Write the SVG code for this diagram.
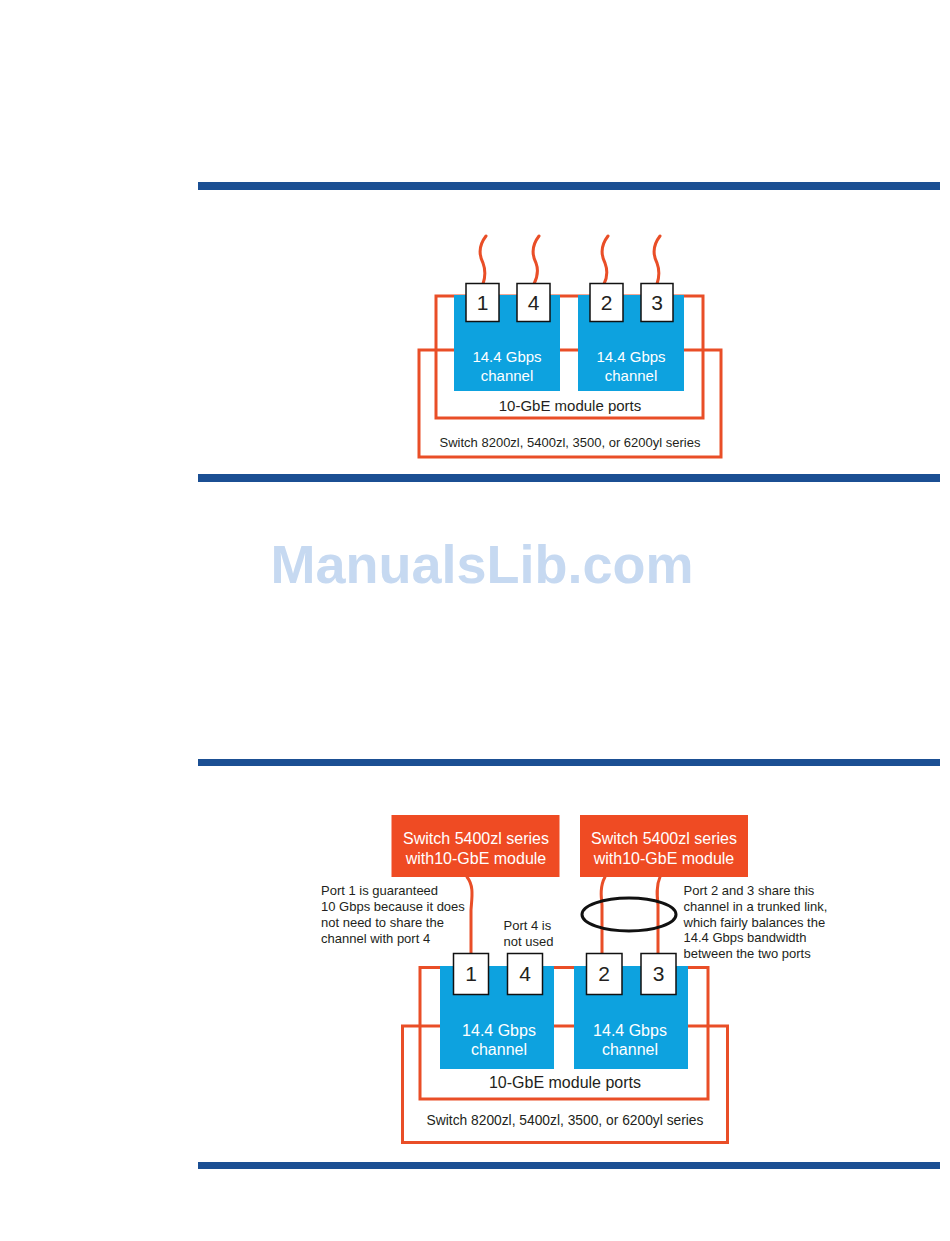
<svg xmlns="http://www.w3.org/2000/svg" width="950" height="1241" viewBox="0 0 950 1241">
<style>
.bar{fill:#1B4F93}
.frame{fill:none;stroke:#E94E27;stroke-width:3}
.chan{fill:#0DA2DF}
.port{fill:#fff;stroke:#111;stroke-width:1.5}
.cable{fill:none;stroke:#E94E27;stroke-width:3;stroke-linecap:round}
.hdr{fill:#EF4B23}
text{font-family:"Liberation Sans",Arial,sans-serif;fill:#231F20}
.w{fill:#fff}
.c{text-anchor:middle}
.num{font-size:21px}
</style>
<rect width="950" height="1241" fill="#fff"/>
<g id="bars">
<rect class="bar" x="198" y="182" width="742" height="8"/>
<rect class="bar" x="198" y="474" width="742" height="8"/>
<rect class="bar" x="198" y="759" width="742" height="7"/>
<rect class="bar" x="198" y="1162" width="742" height="7"/>
</g>
<text x="482" y="583" text-anchor="middle" font-family="Liberation Sans, Arial, sans-serif" font-weight="bold" font-size="54" style="fill:#C6D9F1">ManualsLib.com</text>

<!-- Top diagram -->
<g id="top-switch">
<rect class="frame" x="419" y="350" width="302" height="107"/>
<text class="c" x="570" y="447" font-size="13">Switch 8200zl, 5400zl, 3500, or 6200yl series</text>
</g>
<g id="top-module">
<rect class="frame" x="436" y="296" width="267" height="122"/>
<text class="c" x="570" y="411" font-size="15">10-GbE module ports</text>
</g>
<g id="top-channel-a">
<rect class="chan" x="454" y="295" width="106" height="96"/>
<text class="c w" x="507" y="362" font-size="15">14.4 Gbps</text>
<text class="c w" x="507" y="381" font-size="15">channel</text>
</g>
<g id="top-channel-b">
<rect class="chan" x="578" y="295" width="106" height="96"/>
<text class="c w" x="631" y="362" font-size="15">14.4 Gbps</text>
<text class="c w" x="631" y="381" font-size="15">channel</text>
</g>
<g id="top-connectors">
<path class="cable" d="M486,236 C479,245 479,255 483,263 C486,271 485,278 483,284"/>
<path class="cable" d="M539,236 C532,245 532,255 536,263 C539,271 537,278 534,284"/>
<path class="cable" d="M608,236 C601,245 601,255 605,263 C608,271 607,278 604,284"/>
<path class="cable" d="M660,236 C653,245 653,255 657,263 C660,271 659,278 657,284"/>
</g>
<g id="top-port-1"><rect class="port" x="466" y="283.5" width="33" height="38"/><text class="c num" x="482.5" y="310">1</text></g>
<g id="top-port-4"><rect class="port" x="517" y="283.5" width="33" height="38"/><text class="c num" x="533.5" y="310">4</text></g>
<g id="top-port-2"><rect class="port" x="590" y="283.5" width="33" height="38"/><text class="c num" x="606.5" y="310">2</text></g>
<g id="top-port-3"><rect class="port" x="641" y="283.5" width="32" height="38"/><text class="c num" x="657" y="310">3</text></g>

<!-- Bottom diagram -->
<g id="bot-switch">
<rect class="frame" x="402.5" y="1026" width="325" height="116.5"/>
<text class="c" x="565" y="1125" font-size="13.8">Switch 8200zl, 5400zl, 3500, or 6200yl series</text>
</g>
<g id="bot-module">
<rect class="frame" x="420" y="967.5" width="288" height="131.5"/>
<text class="c" x="565" y="1088" font-size="16">10-GbE module ports</text>
</g>
<g id="bot-channel-a">
<rect class="chan" x="440" y="966" width="114" height="103"/>
<text class="c w" x="499" y="1036" font-size="16">14.4 Gbps</text>
<text class="c w" x="499" y="1055" font-size="16">channel</text>
</g>
<g id="bot-channel-b">
<rect class="chan" x="574" y="966" width="114" height="103"/>
<text class="c w" x="630" y="1036" font-size="16">14.4 Gbps</text>
<text class="c w" x="630" y="1055" font-size="16">channel</text>
</g>
<g id="bot-sw-a">
<rect class="hdr" x="391.5" y="815" width="168" height="62"/>
<text class="c w" x="476" y="843.5" font-size="16">Switch 5400zl series</text>
<text class="c w" x="476" y="863.5" font-size="16">with10-GbE module</text>
</g>
<g id="bot-sw-b">
<rect class="hdr" x="580" y="815" width="168" height="62"/>
<text class="c w" x="664" y="843.5" font-size="16">Switch 5400zl series</text>
<text class="c w" x="664" y="863.5" font-size="16">with10-GbE module</text>
</g>
<g id="bot-connectors">
<path class="cable" d="M467,877 C474,886 472,896 471,910 L471,954"/>
<path class="cable" d="M605,877 C600,886 601,896 602,905 L602,954"/>
<path class="cable" d="M660,877 C656,886 657,896 658,905 L658,954"/>
<ellipse cx="629" cy="914.5" rx="47" ry="16.5" fill="none" stroke="#111" stroke-width="3"/>
</g>
<g id="bot-port-1"><rect class="port" x="453.5" y="953.5" width="35" height="41"/><text class="c num" x="471" y="981">1</text></g>
<g id="bot-port-4"><rect class="port" x="507.5" y="953.5" width="35" height="41"/><text class="c num" x="525" y="981">4</text></g>
<g id="bot-port-2"><rect class="port" x="586.5" y="953.5" width="35.5" height="41"/><text class="c num" x="604" y="981">2</text></g>
<g id="bot-port-3"><rect class="port" x="641" y="953.5" width="35" height="41"/><text class="c num" x="658.5" y="981">3</text></g>
<g id="note-port1" font-size="13">
<text x="321" y="894.5">Port 1 is guaranteed</text>
<text x="321" y="910.5">10 Gbps because it does</text>
<text x="321" y="926.5">not need to share the</text>
<text x="321" y="942.5">channel with port 4</text>
</g>
<g id="note-port4" font-size="13">
<text x="503.5" y="930">Port 4 is</text>
<text x="503.5" y="946">not used</text>
</g>
<g id="note-trunk" font-size="13">
<text x="683.5" y="894.5">Port 2 and 3 share this</text>
<text x="683.5" y="910.5">channel in a trunked link,</text>
<text x="683.5" y="926.5">which fairly balances the</text>
<text x="683.5" y="942">14.4 Gbps bandwidth</text>
<text x="683.5" y="958">between the two ports</text>
</g>
</svg>
